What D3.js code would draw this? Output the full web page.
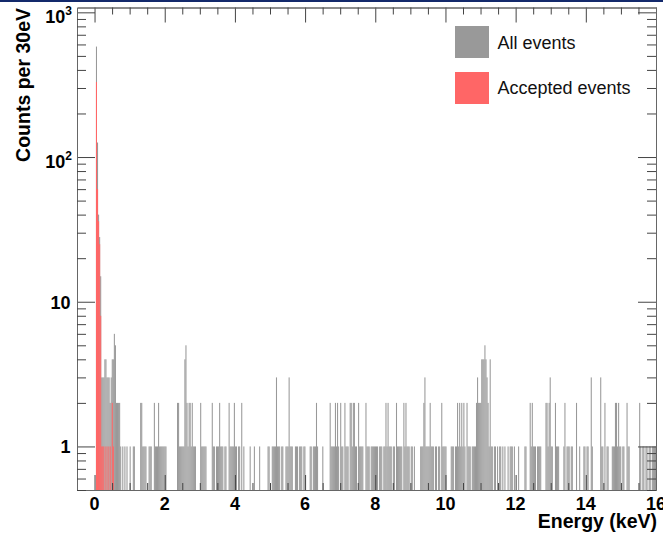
<!DOCTYPE html>
<html><head><meta charset="utf-8">
<script src="https://cdn.jsdelivr.net/npm/d3@7"></script>
<style>html,body{margin:0;padding:0;background:#fff;overflow:hidden}</style>
</head><body><svg id="c" width="663" height="536"></svg>
<script>
// ---- data ----
const xMin = -0.5, xMax = 16, binWidth = 0.03;   // keV, 30 eV bins
const xTickLabels = [0, 2, 4, 6, 8, 10, 12, 14, 16];
const yTickLabels = [1, 10, 100, 1000];
const seriesNames = ["All events", "Accepted events"];
// counts per 30 eV bin, all events (550 bins from -0.5 keV)
const allCounts = [
  0,0,0,0,0,0,0,0,0,0,0,0,0,0,0,0,0,0,580,126,40,28,15,3,3,
  3,4,4,3,3,3,2,3,4,4,6,5,2,2,2,2,1,0,1,0,1,0,1,0,0,
  1,0,0,1,1,0,0,0,0,0,2,2,1,1,1,1,0,0,1,1,1,0,0,2,1,
  1,1,2,1,1,1,1,1,1,1,0,0,0,0,0,0,0,0,0,0,2,2,1,1,1,
  1,1,4,5,2,1,2,2,1,2,1,1,1,0,0,0,0,2,1,1,1,1,1,0,0,
  0,0,0,2,1,1,0,1,1,1,2,1,1,1,0,1,1,0,0,2,1,1,1,1,2,
  1,1,0,1,1,0,2,0,1,0,0,0,0,0,1,0,0,0,1,0,0,0,0,1,0,
  0,0,0,0,0,0,1,1,0,0,1,1,1,1,3,1,1,1,0,1,1,0,0,1,1,
  1,3,1,1,1,0,0,1,1,1,0,1,1,1,0,1,1,0,0,0,0,1,1,0,1,
  1,1,2,1,0,0,0,0,1,0,0,0,0,0,0,2,1,1,1,1,2,1,2,1,0,
  2,1,1,0,2,1,1,1,0,2,2,1,2,2,1,1,0,2,1,1,1,1,0,0,2,
  1,1,1,0,1,1,1,1,1,1,1,0,1,1,1,0,1,1,2,1,2,1,1,1,0,
  1,1,0,2,1,1,1,1,1,0,2,1,2,1,1,1,0,1,1,0,1,0,0,0,0,
  0,1,1,1,2,3,1,1,1,1,2,1,1,1,0,1,1,0,1,1,0,2,1,1,1,
  1,0,0,0,0,1,1,1,0,1,1,2,1,2,1,2,1,2,1,0,2,1,1,1,0,
  1,1,1,1,2,3,2,2,2,4,4,4,5,4,3,2,1,4,1,1,0,1,1,0,1,
  0,1,1,0,1,0,1,0,0,1,0,1,1,1,0,1,0,0,0,1,0,0,0,0,0,
  1,1,0,0,0,2,1,2,1,1,1,0,1,1,1,1,0,0,0,0,2,2,1,2,3,
  1,1,0,0,2,1,1,1,0,0,0,0,1,2,0,1,1,1,0,1,1,0,0,0,2,
  0,0,1,0,0,0,1,1,0,1,1,0,0,3,1,0,0,0,0,0,0,0,3,1,1,
  0,2,0,1,1,0,0,0,1,1,1,2,2,1,2,1,1,0,1,1,0,0,2,1,1,
  0,0,0,0,0,0,0,0,0,2,1,0,1,1,0,1,1,0,1,1,0,1,1,1,1
];
// accepted events: counts per bin starting at the bin whose low edge is 0.04 keV
const acceptedStart = 0.04;
const acceptedCounts = [330,60,36,25,8,1,1,1,0,1,0,1,0,1,0,2,1];

// ---- layout ----
const svg = d3.select("#c");
const F = "'Liberation Sans', Arial, Helvetica, sans-serif";
const L = 77, R = 656, T = 7.5, B = 490;
const x = d3.scaleLinear().domain([xMin, xMax]).range([L, R]);
const y = d3.scaleLog().domain([0.5, 1080]).range([B, T]);

svg.append("rect").attr("x",0).attr("y",0).attr("width",663).attr("height",2).attr("fill","#13296b");

const allBins = allCounts.map((c,i)=>({e: xMin + i*binWidth, c})).filter(d => d.c > 0);
const acc0 = Math.round((acceptedStart - xMin)/binWidth);
const accBins = acceptedCounts.map((c,i)=>({e: xMin + (acc0+i)*binWidth, c})).filter(d => d.c > 0);

svg.append("clipPath").attr("id","plot").append("rect")
  .attr("x",L).attr("y",T).attr("width",R-L).attr("height",B-T);
const g = svg.append("g").attr("clip-path","url(#plot)");
function bars(data, color){
  g.append("g").selectAll("rect").data(data).join("rect")
    .attr("x", d => x(d.e))
    .attr("width", d => x(d.e + binWidth) - x(d.e))
    .attr("y", d => y(d.c))
    .attr("height", d => y(0.5) - y(d.c))
    .attr("fill", color);
}
bars(allBins, "#999999");
bars(accBins, "#ff6666");

// ---- axes (ROOT style, ticks inward on all four sides) ----
const tickCol = "#444";
const xMinor = d3.range(0, 16.001, 0.5).filter(v => v % 2 !== 0);
const yMinor = [];
[0.1,1,10,100].forEach(d => { for (let k=2;k<=9;k++){ const v=k*d; if (v>=0.5 && v<=1080) yMinor.push(v);} });

function ax(gen, tx, ty){ return svg.append("g").attr("transform",`translate(${tx},${ty})`).call(gen); }
function style(sel){ sel.selectAll("path.domain").attr("stroke","#666").attr("stroke-width",1);
  sel.selectAll(".tick line").attr("stroke",tickCol); sel.selectAll("text").remove(); return sel; }

style(ax(d3.axisBottom(x).tickValues(xTickLabels).tickSize(-15).tickSizeOuter(0), 0, B));
style(ax(d3.axisBottom(x).tickValues(xMinor).tickSize(-7).tickSizeOuter(0), 0, B));
style(ax(d3.axisTop(x).tickValues(xTickLabels).tickSize(-15).tickSizeOuter(0), 0, T));
style(ax(d3.axisTop(x).tickValues(xMinor).tickSize(-7).tickSizeOuter(0), 0, T));
style(ax(d3.axisLeft(y).tickValues(yTickLabels).tickSize(-18).tickSizeOuter(0), L, 0));
style(ax(d3.axisLeft(y).tickValues(yMinor).tickSize(-9).tickSizeOuter(0), L, 0));
style(ax(d3.axisRight(y).tickValues(yTickLabels).tickSize(-18).tickSizeOuter(0), R, 0));
style(ax(d3.axisRight(y).tickValues(yMinor).tickSize(-9).tickSizeOuter(0), R, 0));

// x tick labels
svg.append("g").selectAll("text").data(xTickLabels).join("text")
  .attr("x", d => x(d)).attr("y", 509.5).attr("text-anchor","middle")
  .attr("font-family",F).attr("font-weight","bold").attr("font-size",18).attr("fill","#000")
  .text(d => d);

// y tick labels (ROOT log style)
const yl = svg.append("g");
yTickLabels.forEach(v => {
  const e = Math.round(Math.log10(v));
  if (e <= 1) {
    yl.append("text").attr("x",70.5).attr("y",y(v)+7).attr("text-anchor","end")
      .attr("font-family",F).attr("font-weight","bold").attr("font-size",18).text(v);
  } else {
    const t = yl.append("text").attr("x",72).attr("y",y(v)+11).attr("text-anchor","end")
      .attr("font-family",F).attr("font-weight","bold").attr("font-size",18);
    t.append("tspan").text("10");
    t.append("tspan").attr("dy",-8).attr("font-size",12).text(e);
  }
});

// axis titles
svg.append("text").attr("x",657).attr("y",527.5).attr("text-anchor","end")
  .attr("font-family",F).attr("font-weight","bold").attr("font-size",19.5).text("Energy (keV)");
svg.append("text").attr("transform","translate(30,8) rotate(-90)").attr("text-anchor","end")
  .attr("font-family",F).attr("font-weight","bold").attr("font-size",19.5).text("Counts per 30eV");

// legend
const legColors = ["#999999", "#ff6666"];
const leg = svg.append("g");
seriesNames.forEach((n,i) => {
  leg.append("rect").attr("x",455).attr("y",26 + i*46).attr("width",34).attr("height",32).attr("fill",legColors[i]);
  leg.append("text").attr("x",497.5).attr("y",48.5 + i*45).attr("font-family",F).attr("font-size",18).attr("fill","#111").text(n);
});
</script></body></html>
